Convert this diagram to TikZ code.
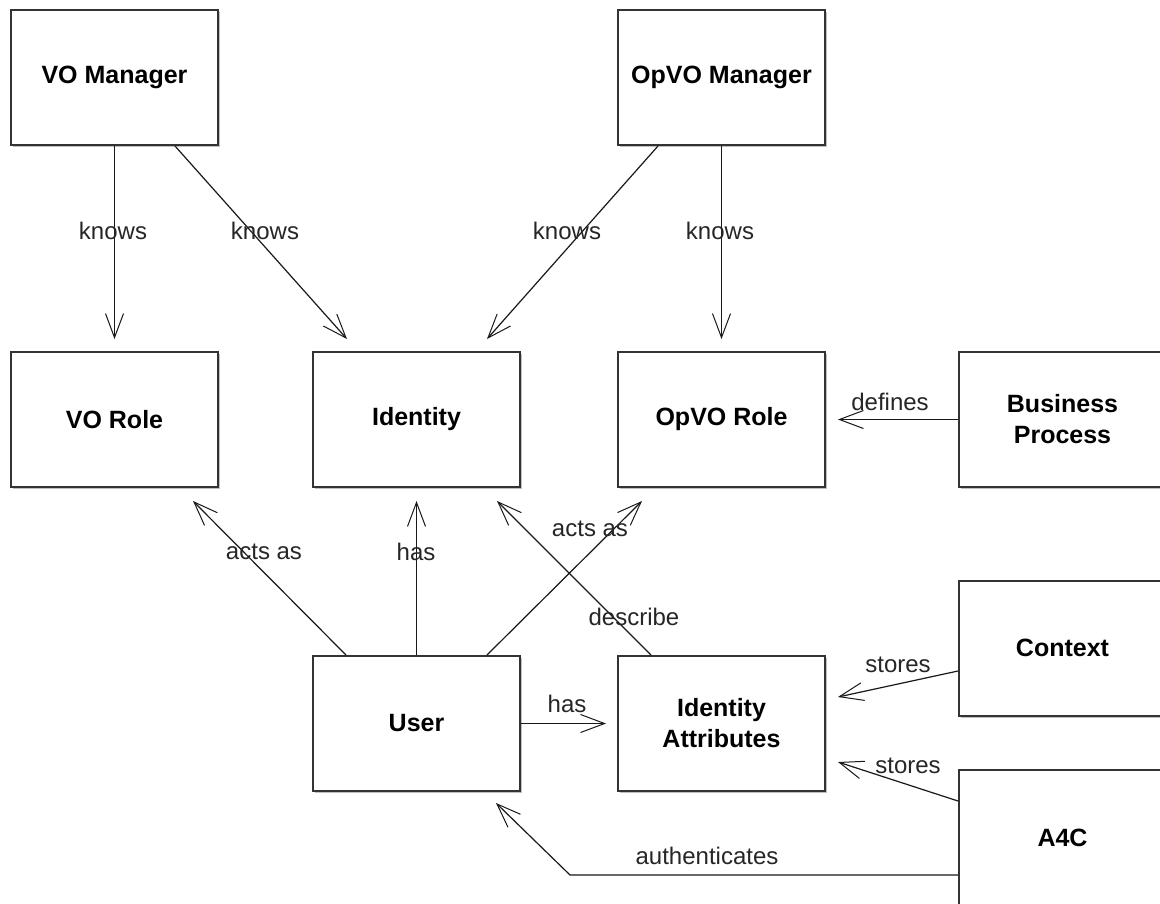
\documentclass[tikz,border=0pt]{standalone}
\usepackage{fontspec}
\setmainfont{Liberation Sans}
\usetikzlibrary{arrows.meta,shadows}

\begin{document}
\begin{tikzpicture}[x=1pt,y=-1pt,
  box/.style={draw=black!80, line width=2pt, fill=white,
    minimum width=207pt, minimum height=135pt, inner sep=0pt,
    align=center, font=\fontsize{25}{31}\selectfont\bfseries,
    drop shadow={shadow xshift=2pt, shadow yshift=-2pt, fill=black!25, opacity=1}},
  link/.style={draw=black!90, line width=1.2pt,
    -{Straight Barb[length=24pt,width=18pt,line width=1pt]}},
  lbl/.style={font=\fontsize{24}{28}\selectfont, text=black!85, inner sep=0pt}]

\useasboundingbox (0,0) rectangle (1160,903);
\clip (0,0) rectangle (1160,903);
\fill[white] (0,0) rectangle (1160,903);

% classes
\node[box] (vom)      at (114.5,77.5)   {VO Manager};
\node[box] (opvom)    at (721.5,77.5)   {OpVO Manager};
\node[box] (vorole)   at (114.5,419.5)  {VO Role};
\node[box] (identity) at (416.5,419.5)  {Identity};
\node[box] (opvorole) at (721.5,419.5)  {OpVO Role};
\node[box] (bp)       at (1062.5,419.5) {Business\\Process};
\node[box] (user)     at (416.5,723.5)  {User};
\node[box] (ida)      at (721.5,723.5)  {Identity\\Attributes};
\node[box] (context)  at (1062.5,648)   {Context};
\node[box] (a4c)      at (1062.5,837.5) {A4C};

% associations (shifts are in page units: positive yshift points up)
\draw[link] (vom.south) -- ([yshift=12pt]vorole.north);
\draw[link] ([xshift=60.5pt]vom.south) -- ([xshift=-69.5pt,yshift=12pt]identity.north);
\draw[link] ([xshift=-63.5pt]opvom.south) -- ([xshift=70.5pt,yshift=12pt]identity.north);
\draw[link] (opvom.south) -- ([yshift=12pt]opvorole.north);
\draw[link] (bp.west) -- ([xshift=12pt]opvorole.east);
\draw[link] ([xshift=-70.5pt]user.north) -- ([xshift=78.5pt,yshift=-13pt]vorole.south);
\draw[link] (user.north) -- ([yshift=-13pt]identity.south);
\draw[link] ([xshift=70.5pt]user.north) -- ([xshift=-79.5pt,yshift=-13pt]opvorole.south);
\draw[link] ([xshift=-70.5pt]ida.north) -- ([xshift=80.5pt,yshift=-13pt]identity.south);
\draw[link] (user.east) -- ([xshift=-11pt]ida.west);
\draw[link] ([yshift=-23pt]context.west) -- ([xshift=12pt,yshift=26.5pt]ida.east);
\draw[link] ([yshift=36.5pt]a4c.west) -- ([xshift=12pt,yshift=-38.5pt]ida.east);
\coordinate (bend) at (570,875);
\draw[link] ([yshift=-37.5pt]a4c.west) -- (bend) -- ([xshift=79.5pt,yshift=-11pt]user.south);

% association labels
\node[lbl] (l1)  at (113,231) {knows};
\node[lbl] (l2)  at (265,231) {knows};
\node[lbl] (l3)  at (567,231) {knows};
\node[lbl] (l4)  at (720,231) {knows};
\node[lbl] (l5)  at (890,402) {defines};
\node[lbl] (l6)  at (264,552) {acts as};
\node[lbl] (l7)  at (416,552) {has};
\node[lbl] (l8)  at (590,529) {acts as};
\node[lbl] (l9)  at (634,617) {describe};
\node[lbl] (l10) at (567,704) {has};
\node[lbl] (l11) at (898,665) {stores};
\node[lbl] (l12) at (908,766) {stores};
\node[lbl] (l13) at (707,856) {authenticates};
\end{tikzpicture}
\end{document}
